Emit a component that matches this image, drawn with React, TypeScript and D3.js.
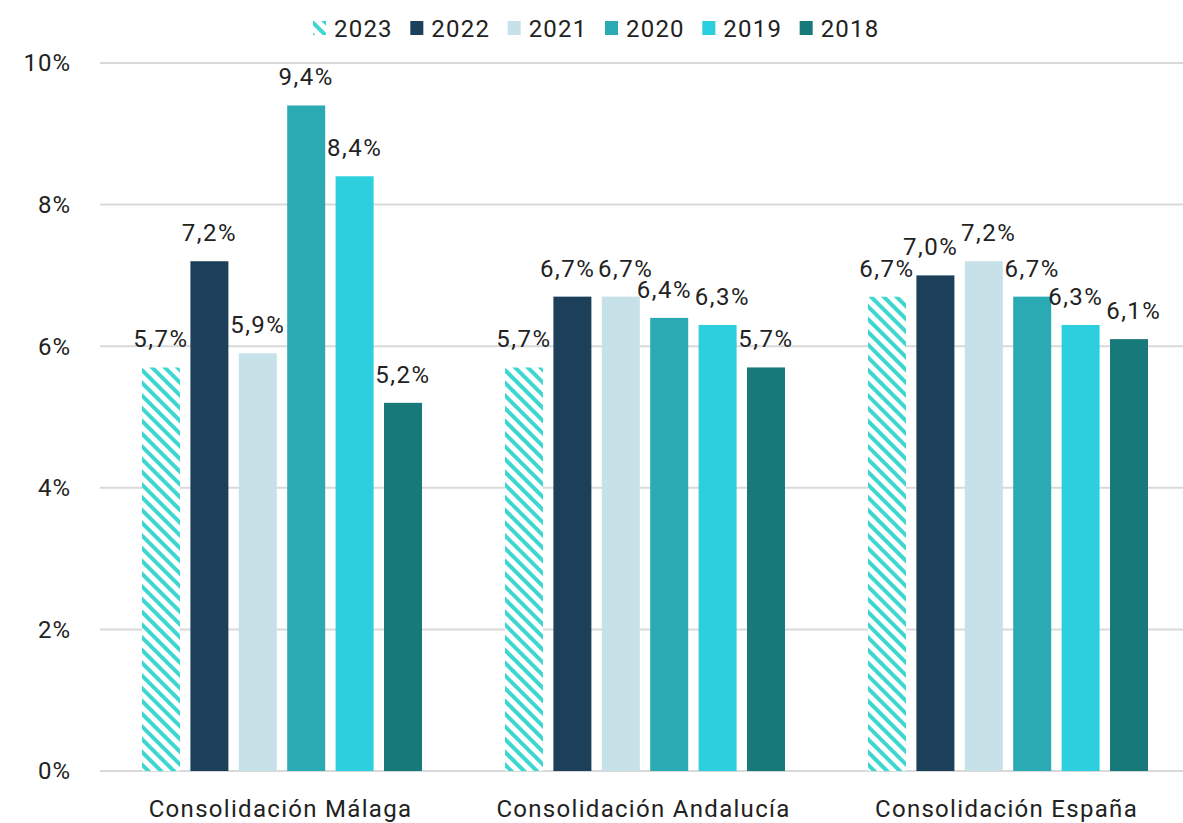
import React from "react";
import * as d3 from "d3";

// categories & series
const categories = ["Consolidación Málaga", "Consolidación Andalucía", "Consolidación España"];
const years = ["2023", "2022", "2021", "2020", "2019", "2018"];
const v2023 = [5.7, 5.7, 6.7];
const v2022 = [7.2, 6.7, 7.0];
const v2021 = [5.9, 6.7, 7.2];
const v2020 = [9.4, 6.4, 6.7];
const v2019 = [8.4, 6.3, 6.3];
const v2018 = [5.2, 5.7, 6.1];
const yTicks = [0, 2, 4, 6, 8, 10];

const seriesValues = [v2023, v2022, v2021, v2020, v2019, v2018];
const colors = ["url(#hatch)", "#1c3f5a", "#c6e1e8", "#2aabb3", "#2bcfde", "#18797b"];

const W = 1183;
const H = 823;
const margin = { top: 63, right: 0, bottom: 52, left: 100 };
const font = "Roboto, 'DejaVu Sans', sans-serif";
const textColor = "#222";
const labelW = 55; // approx width of a "6,7%" label at 24px
const labelGap = 3;

type Label = { x: number; y: number; text: string };

// push apart labels that collide (same group, similar height)
function resolve(labels: Label[]) {
  for (let it = 0; it < 20; it++) {
    let moved = false;
    for (let i = 0; i < labels.length - 1; i++) {
      const a = labels[i];
      const b = labels[i + 1];
      if (Math.abs(a.y - b.y) >= 18) continue;
      const need = labelW + labelGap - (b.x - a.x);
      if (need > 0.5) {
        a.x -= need / 2;
        b.x += need / 2;
        moved = true;
      }
    }
    if (!moved) break;
  }
  return labels;
}

export default function App() {
  const y = d3.scaleLinear().domain([0, 10]).range([H - margin.bottom, margin.top]);
  const x0 = d3.scaleBand<string>().domain(categories).range([margin.left, 1189]).padding(0);
  const x1 = d3
    .scaleBand<string>()
    .domain(years)
    .range([42, x0.bandwidth() - 41])
    .paddingInner(0.215)
    .paddingOuter(0);
  const fmt = (v: number) => v.toFixed(1).replace(".", ",") + "%";

  const legendX = d3.scaleBand<string>().domain(years).range([313, 897]);

  return (
    <svg
      width={W}
      height={H}
      style={{ position: "absolute", left: 0, top: 0, background: "#fff" }}
      fontFamily={font}
    >
      <defs>
        <pattern id="hatch" width="9" height="9" patternUnits="userSpaceOnUse" patternTransform="rotate(-45)">
          <rect width="9" height="9" fill="#fff" />
          <rect width="4" height="9" fill="#3dd7d0" />
        </pattern>
      </defs>

      {/* grid */}
      <g>
        {yTicks.map((t) => (
          <g key={t}>
            <line x1={margin.left} x2={W} y1={y(t)} y2={y(t)} stroke="#d9d9d9" strokeWidth={2} />
            <text
              x={71}
              y={y(t)}
              dy="0.35em"
              textAnchor="end"
              fontSize={24}
              letterSpacing={1}
              fill={textColor}
            >
              {t}%
            </text>
          </g>
        ))}
      </g>

      {/* bars */}
      {categories.map((c, ci) => {
        const labels = resolve(
          years.map((yr, si) => {
            const v = seriesValues[si][ci];
            return { x: x1(yr)! + x1.bandwidth() / 2, y: y(v) - 20, text: fmt(v) };
          })
        );
        return (
          <g key={c} transform={`translate(${x0(c)},0)`}>
            {years.map((yr, si) => {
              const v = seriesValues[si][ci];
              return (
                <rect
                  key={yr}
                  x={x1(yr)}
                  y={y(v)}
                  width={x1.bandwidth()}
                  height={y(0) - y(v)}
                  fill={colors[si]}
                  rx={si === 0 ? 2 : 0}
                />
              );
            })}
            {labels.map((l, i) => (
              <text
                key={i}
                x={l.x}
                y={l.y}
                textAnchor="middle"
                fontSize={24}
                letterSpacing={1.5}
                fill={textColor}
              >
                {l.text}
              </text>
            ))}
            <text
              x={x0.bandwidth() / 2 - 1}
              y={817}
              textAnchor="middle"
              fontSize={24}
              letterSpacing={1.3}
              fill={textColor}
            >
              {c}
            </text>
          </g>
        );
      })}

      {/* legend */}
      <g>
        {years.map((yr, i) => {
          const lx = legendX(yr)!;
          return (
            <g key={yr} transform={`translate(${lx},0)`}>
              <rect x={0} y={21} width={13} height={14} fill={colors[i]} />
              <text x={21} y={37} fontSize={24} letterSpacing={1.2} fill={textColor}>
                {yr}
              </text>
            </g>
          );
        })}
      </g>
    </svg>
  );
}
